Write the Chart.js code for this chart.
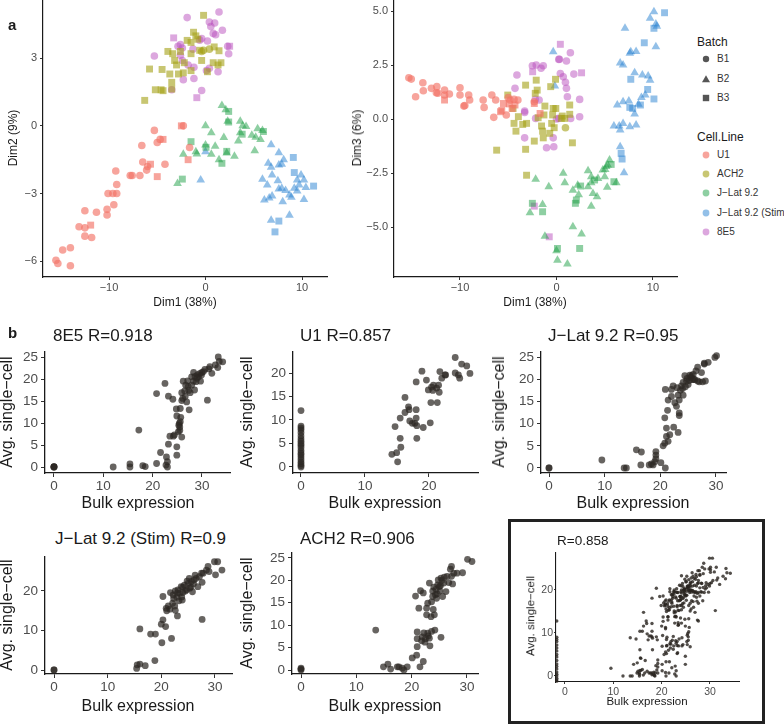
<!DOCTYPE html>
<html>
<head>
<meta charset="utf-8">
<script src="https://cdn.jsdelivr.net/npm/chart.js@4.4.1/dist/chart.umd.min.js"></script>
<style>
  body { margin:0; background:#fff; }
  #wrap { position:relative; width:784px; height:728px; overflow:hidden; font-family:"Liberation Sans", Arial, Helvetica, sans-serif; }
  canvas { position:absolute; }
  .t { position:absolute; white-space:nowrap; line-height:1; color:#1a1a1a; }
  .c { transform:translate(-50%,-50%); }
  .l { transform:translateY(-50%); }
  .r { transform:translate(-50%,-50%) rotate(-90deg); }
  .box { position:absolute; left:508px; top:519px; width:257px; height:205px; box-sizing:border-box; border:3px solid #222; }
  .key { position:absolute; transform:translate(-50%,-50%); line-height:0; }
</style>
</head>
<body>
<div id="wrap">
  <div class="box"></div>
  <canvas id="aL"></canvas>
  <canvas id="aR"></canvas>
  <canvas id="p1"></canvas>
  <canvas id="p2"></canvas>
  <canvas id="p3"></canvas>
  <canvas id="p4"></canvas>
  <canvas id="p5"></canvas>
  <canvas id="p6"></canvas>

  <!-- panel a text -->
  <div class="t l" style="left:8px;top:24px;font-size:15px;font-weight:bold;">a</div>
  <div class="t r" style="left:13px;top:138px;font-size:12px;">Dim2 (9%)</div>
  <div class="t c" style="left:185px;top:302px;font-size:12px;">Dim1 (38%)</div>
  <div class="t r" style="left:357px;top:138px;font-size:12px;">Dim3 (6%)</div>
  <div class="t c" style="left:535px;top:302px;font-size:12px;">Dim1 (38%)</div>

  <!-- legend -->
  <div class="t l" style="left:697px;top:42px;font-size:12px;">Batch</div>
  <div class="t l" style="left:717px;top:59px;font-size:10px;color:#333;">B1</div>
  <div class="t l" style="left:717px;top:79px;font-size:10px;color:#333;">B2</div>
  <div class="t l" style="left:717px;top:98px;font-size:10px;color:#333;">B3</div>
  <div class="t l" style="left:697px;top:137px;font-size:12px;">Cell.Line</div>
  <div class="t l" style="left:717px;top:155px;font-size:10px;color:#333;">U1</div>
  <div class="t l" style="left:717px;top:174px;font-size:10px;color:#333;">ACH2</div>
  <div class="t l" style="left:717px;top:193px;font-size:10px;color:#333;">J−Lat 9.2</div>
  <div class="t l" style="left:717px;top:213px;font-size:10px;color:#333;">J−Lat 9.2 (Stim)</div>
  <div class="t l" style="left:717px;top:232px;font-size:10px;color:#333;">8E5</div>
  <div id="keys"></div>

  <!-- panel b text -->
  <div class="t l" style="left:8px;top:332px;font-size:15px;font-weight:bold;">b</div>
  <div class="t l" style="left:53px;top:335px;font-size:17px;">8E5 R=0.918</div>
  <div class="t l" style="left:300px;top:335px;font-size:17px;">U1 R=0.857</div>
  <div class="t l" style="left:548px;top:335px;font-size:17px;">J−Lat 9.2 R=0.95</div>
  <div class="t l" style="left:55px;top:538px;font-size:17px;">J−Lat 9.2 (Stim) R=0.9</div>
  <div class="t l" style="left:300px;top:538px;font-size:17px;">ACH2 R=0.906</div>
  <div class="t l" style="left:557px;top:541px;font-size:13.5px;">R=0.858</div>

  <div class="t r" style="left:7px;top:412px;font-size:16px;">Avg. single−cell</div>
  <div class="t r" style="left:247px;top:412px;font-size:16px;">Avg. single−cell</div>
  <div class="t r" style="left:499px;top:412px;font-size:16px;">Avg. single−cell</div>
  <div class="t r" style="left:7px;top:615px;font-size:16px;">Avg. single−cell</div>
  <div class="t r" style="left:247px;top:613px;font-size:16px;">Avg. single−cell</div>
  <div class="t r" style="left:531px;top:616px;font-size:11.5px;">Avg. single−cell</div>

  <div class="t c" style="left:138px;top:503px;font-size:16px;">Bulk expression</div>
  <div class="t c" style="left:385px;top:503px;font-size:16px;">Bulk expression</div>
  <div class="t c" style="left:633px;top:503px;font-size:16px;">Bulk expression</div>
  <div class="t c" style="left:138px;top:706px;font-size:16px;">Bulk expression</div>
  <div class="t c" style="left:385px;top:706px;font-size:16px;">Bulk expression</div>
  <div class="t c" style="left:647px;top:702px;font-size:11.5px;">Bulk expression</div>
</div>
<script>
// ---- panel a data: [dim1, dimY, batch] ----
const u1_d12 = [[-15.5,-5.96,1],[-15.3,-6.1,1],[-14.8,-5.5,1],[-14.0,-5.4,1],[-14.0,-6.2,1],[-13.1,-4.47,1],[-12.5,-4.52,1],[-12.5,-4.89,1],[-12.5,-3.76,1],[-11.9,-4.4,3],[-11.8,-4.95,1],[-11.3,-3.83,1],[-10.2,-3.7,1],[-10.2,-3.95,1],[-10.1,-3.0,1],[-9.6,-3.0,1],[-9.5,-3.5,1],[-9.2,-3.0,1],[-9.2,-2.6,1],[-9.3,-2.0,1],[-7.8,-2.2,1],[-7.6,-2.2,1],[-6.8,-2.2,1],[-6.6,-0.87,1],[-6.5,-1.6,1],[-6.1,-1.96,1],[-6.0,-1.8,1],[-5.7,-1.7,3],[-5.3,-0.2,1],[-5.0,-2.25,3],[-5.0,-0.74,1],[-4.7,-0.6,1],[-4.4,-0.6,3],[-4.2,-1.7,1],[-2.5,0.0,3],[-2.3,0.0,1],[-1.65,-0.96,1],[-1.8,-1.5,3]];
const ach2_d12 = [[-0.2,4.9,3],[-1.24,4.15,3],[-1.0,3.99,3],[-0.8,3.84,3],[-1.9,3.79,3],[-1.5,3.7,3],[-3.9,3.3,3],[-3.4,3.2,3],[-2.6,3.3,3],[-1.5,3.2,3],[-0.6,3.35,3],[-0.4,3.3,1],[-0.2,3.35,1],[0.9,3.5,3],[1.4,3.33,3],[-3.2,2.9,3],[-3.0,2.7,3],[-2.2,2.8,3],[-0.4,2.9,3],[0.8,2.8,3],[1.6,2.8,3],[-5.8,2.52,3],[-4.5,2.5,3],[-3.7,2.3,3],[-2.3,2.35,3],[-1.5,2.45,3],[1.3,2.7,3],[-3.5,1.93,3],[-5.2,1.6,3],[-4.6,1.6,3],[-4.4,1.56,3],[-3.5,1.63,3],[-6.3,1.13,3],[-2.8,2.3,3],[0.4,3.4,1],[0.2,2.4,3]];
const jl_d12 = [[1.7,0.9,2],[2.1,0.72,2],[2.4,0.64,3],[2.3,0.2,2],[2.4,0.17,3],[0.0,0.0,2],[0.6,-0.3,2],[1.9,-0.52,2],[3.6,0.2,2],[3.85,0.0,2],[4.2,-0.03,2],[3.6,-0.3,2],[3.8,-0.37,3],[3.4,-0.67,2],[5.4,-0.13,2],[5.9,-0.2,2],[6.0,-0.25,3],[4.8,-0.42,2],[5.2,-0.5,2],[5.7,-0.6,2],[5.1,-1.1,2],[-1.5,-0.7,3],[0.0,-0.85,2],[0.05,-0.95,3],[1.0,-0.9,2],[-2.3,-1.26,2],[-0.9,-1.25,2],[0.6,-1.26,2],[1.4,-1.5,2],[1.7,-1.66,3],[2.2,-1.2,2],[3.0,-1.35,2],[2.2,-1.13,3],[-2.4,-2.36,3],[-2.9,-2.56,2],[-1.0,-1.15,2]];
const stim_d12 = [[6.8,-0.84,2],[7.6,-1.19,2],[9.1,-1.4,3],[8.1,-1.5,2],[6.5,-1.66,2],[6.8,-1.84,2],[7.6,-1.73,2],[7.9,-1.7,2],[9.2,-2.07,3],[9.9,-2.18,2],[6.9,-2.18,2],[5.9,-2.37,2],[7.5,-2.43,2],[6.4,-2.62,2],[9.5,-2.4,2],[10.2,-2.4,2],[9.7,-2.62,2],[10.4,-2.73,2],[11.2,-2.67,3],[9.2,-2.77,2],[7.6,-2.8,2],[7.9,-2.77,2],[8.3,-2.87,2],[8.7,-3.07,2],[9.5,-2.89,2],[10.2,-3.26,2],[8.9,-3.17,2],[8.0,-3.36,2],[6.1,-3.29,2],[6.6,-3.2,2],[6.9,-3.11,2],[8.7,-3.96,2],[6.8,-4.18,2],[7.6,-4.22,3],[7.2,-4.7,3],[-0.5,-2.4,2],[0.0,-1.15,2]];
const e8_d12 = [[-1.9,4.8,1],[1.4,5.05,1],[0.4,4.6,1],[0.95,4.56,1],[0.55,4.4,1],[0.8,4.1,1],[1.05,4.04,1],[1.75,4.24,1],[-0.6,3.8,1],[0.2,3.76,1],[-2.6,3.6,1],[-2.85,3.53,1],[-2.4,3.45,1],[-1.3,3.4,1],[-3.3,3.9,3],[2.3,3.53,1],[2.5,3.53,3],[2.4,3.2,1],[-5.3,3.1,1],[-2.6,3.13,1],[-2.4,2.9,1],[-1.8,2.7,1],[-1.2,2.6,1],[0.1,2.45,1],[0.4,2.55,1],[1.3,2.4,1],[-2.3,2.05,1],[-1.2,2.1,1],[-3.5,1.6,1],[-0.4,1.57,1],[-0.9,1.25,3],[-0.4,3.87,1]];

const u1_d13 = [[-15.3,1.91,1],[-15.05,1.85,1],[-14.6,1.03,1],[-13.85,1.68,1],[-13.8,1.31,1],[-12.96,1.42,1],[-12.4,1.5,1],[-12.45,1.22,1],[-12.3,1.2,1],[-11.6,1.34,1],[-11.6,1.11,1],[-11.6,0.88,3],[-11.1,1.16,1],[-10.0,1.45,1],[-10.0,1.11,1],[-9.6,0.6,1],[-9.5,0.63,1],[-9.1,1.11,1],[-9.0,0.88,1],[-7.6,0.88,1],[-7.5,0.54,1],[-6.7,1.11,1],[-6.3,0.88,1],[-6.5,0.08,1],[-5.8,0.34,3],[-5.67,0.4,3],[-5.5,0.72,3],[-5.2,0.19,1],[-5.0,0.99,1],[-4.9,0.7,3],[-4.6,0.49,3],[-4.8,0.88,1],[-4.4,0.91,1],[-4.0,0.88,1],[-4.3,0.65,3],[-2.3,0.72,3],[-2.3,0.8,1],[-1.7,0.26,3]];
const ach2_d13 = [[-3.2,1.57,3],[-2.1,1.8,3],[-0.1,1.84,3],[-0.6,1.5,3],[-2.0,1.34,3],[-2.2,1.19,3],[-5.05,1.11,3],[-4.5,0.49,3],[-3.95,0.11,3],[-4.4,-0.2,3],[-4.2,-0.56,3],[-3.5,-0.25,3],[-3.1,-0.2,3],[-1.2,0.6,3],[-0.34,0.49,3],[-1.3,0.19,3],[-0.4,0.19,3],[0.6,0.14,3],[1.37,0.65,3],[1.37,0.22,3],[-1.55,-0.32,3],[-1.44,-0.56,3],[-0.5,-0.2,3],[-0.24,-0.4,3],[-0.7,-0.66,3],[-1.37,-0.87,3],[-2.3,-1.02,3],[0.93,-0.4,1],[0.5,0.03,3],[1.65,-1.1,3],[-3.2,-1.4,3],[-6.2,-1.44,3],[-3.1,-2.6,3],[-0.07,0.49,3],[0.86,0.03,3],[-1.9,0.06,3]];
const jl_d13 = [[-2.16,-2.79,2],[-0.8,-3.13,2],[0.7,-2.51,2],[0.86,-2.95,2],[1.7,-3.29,2],[2.2,-3.06,2],[2.5,-3.1,3],[2.3,-3.5,2],[2.06,-3.75,3],[1.96,-3.9,3],[3.6,-4.03,2],[3.27,-2.39,2],[3.6,-2.95,2],[3.95,-2.82,3],[3.78,-3.44,2],[4.2,-3.6,2],[5.05,-2.33,2],[5.26,-3.16,2],[-2.5,-3.9,3],[-2.75,-4.34,2],[-1.44,-3.95,2],[-1.44,-4.29,3],[1.7,-4.99,2],[2.6,-5.32,2],[-1.2,-5.42,2],[0.1,-5.99,3],[0.0,-6.1,2],[2.4,-5.99,3],[0.1,-6.53,2],[1.13,-6.71,2],[3.27,-3.13,2],[3.6,-2.67,2],[4.3,-2.75,2],[4.8,-2.36,2],[5.15,-2.2,2],[5.3,-2.13,2],[5.5,-1.9,2],[5.67,-2.1,3],[5.0,-2.67,2],[5.95,-2.9,3],[6.2,-2.95,2]];
const stim_d13 = [[10.1,4.97,2],[11.2,4.92,3],[9.7,4.66,2],[10.3,4.4,2],[10.4,4.3,2],[10.1,4.2,3],[7.1,4.2,2],[9.1,3.53,3],[10.3,3.35,2],[7.7,3.12,2],[8.25,3.13,2],[7.6,3.04,2],[6.6,2.6,2],[6.9,2.5,2],[8.1,2.14,2],[8.9,2.04,2],[9.5,1.99,2],[9.7,1.8,2],[7.7,1.84,3],[9.45,1.37,3],[10.1,0.93,3],[9.2,1.11,2],[8.8,1.0,2],[6.3,0.65,2],[6.9,0.8,2],[7.5,0.83,2],[7.6,0.54,3],[7.9,0.49,3],[8.5,0.69,2],[8.7,0.65,3],[8.1,0.23,2],[5.95,-0.32,2],[6.5,-0.32,2],[6.9,-0.2,2],[7.6,-0.36,2],[8.25,-0.28,2],[6.6,-0.51,2],[6.6,-1.28,2],[6.7,-1.59,3],[6.8,-1.85,3],[7.0,-2.48,2],[-0.34,3.12,2],[-0.17,1.53,2]];
const e8_d13 = [[0.4,3.46,3],[1.44,3.07,1],[0.24,2.76,1],[0.3,2.77,1],[1.03,2.69,1],[-2.5,2.47,1],[-2.1,2.5,1],[-1.6,2.35,1],[-1.37,2.47,1],[-2.47,2.19,3],[-4.1,2.04,1],[0.4,2.11,1],[0.7,1.96,1],[1.8,2.08,1],[2.6,2.14,3],[0.93,1.7,1],[1.03,1.42,1],[-4.3,1.42,1],[1.13,1.03,1],[2.4,0.91,1],[-2.2,0.91,1],[-3.3,0.37,1],[-3.3,0.3,1],[0.24,0.03,1],[0.0,0.0,1],[1.47,0.03,1],[2.4,0.11,1],[-2.16,0.03,1],[-3.3,-0.87,1],[-0.34,-0.87,1],[-1.03,-1.33,1],[-0.28,-1.28,1],[-2.3,-4.03,3],[-0.75,-5.45,3],[-1.8,0.88,1]];

const cellLines = ["U1", "ACH2", "J−Lat 9.2", "J−Lat 9.2 (Stim)", "8E5"];
const cellColors = ["rgba(243,115,103,0.65)", "rgba(163,160,20,0.6)", "rgba(30,160,70,0.5)", "rgba(40,130,210,0.5)", "rgba(185,80,190,0.5)"];
const batchShapes = { 1: "circle", 2: "triangle", 3: "rect" };
const batchRadius = { 1: 3.8, 2: 5, 3: 4.9 };

const dim1Ticks = [-10, 0, 10];
const dim2Ticks = [-6, -3, 0, 3];
const dim3Ticks = [-5, -2.5, 0, 2.5, 5];

// ---- panel b data: [bulk, avg single-cell] ----
const e8Bulk = [[0,0],[0,0],[0,0],[0,0.1],[12.0,0],[15.4,0.7],[15.4,0],[18.0,0.3],[18.5,0.1],[17.2,8.4],[20.8,0.8],[20.8,16.7],[21.6,3.3],[22.5,19.0],[22.7,0.45],[22.8,2.3],[23.0,1.2],[23.0,0],[23.2,5.2],[23.2,16.1],[23.5,7.0],[24.1,15.4],[24.2,7.0],[24.4,7.3],[24.8,13.2],[24.9,11.6],[24.9,4.6],[24.9,2.7],[25.2,8.0],[25.4,9.9],[25.5,9.1],[25.5,8.3],[25.6,13.3],[25.9,15.1],[26.1,15.6],[25.9,6.8],[25.7,11.3],[25.9,16.9],[26.6,16.0],[26.5,17.3],[26.9,14.8],[27.2,18.3],[27.6,16.9],[27.4,13.0],[27.1,19.6],[27.9,18.6],[28.3,19.5],[28.5,17.5],[28.8,19.4],[29.3,20.5],[29.6,21.3],[29.9,20.9],[30.3,21.7],[29.7,19.5],[29.1,21.0],[30.6,22.2],[31.1,15.2],[31.6,22.8],[32.0,21.3],[32.7,23.2],[33.2,22.6],[33.3,25.0],[33.5,24.0],[34.2,23.9],[27.9,20.5],[28.3,21.5],[28.6,20.6],[26.7,18.6],[26.2,19.5],[25.6,10.3],[25.3,9.5],[27.3,17.4],[29.0,20.2],[30.0,21.5],[31.4,22.3]];
const u1Bulk = [[0,12.0],[0,8.7],[0,8.3],[0,7.9],[0,7.3],[0,6.6],[0,6.0],[0,5.5],[0,5.0],[0,4.6],[0,4.1],[0,3.5],[0,3.0],[0,2.6],[0,2.1],[0,1.6],[0,1.1],[0,0.7],[0,0.3],[0,0.0],[14.2,2.7],[14.95,3.05],[14.7,8.6],[15.1,1.1],[15.5,6.1],[15.5,10.4],[15.6,4.2],[16.25,14.8],[16.25,11.6],[16.8,12.8],[16.9,12.2],[17.0,9.8],[17.4,9.3],[17.8,9.3],[18.0,18.1],[18.0,12.2],[18.0,10.4],[18.1,8.8],[18.1,6.1],[18.9,20.4],[19.1,8.4],[19.6,18.5],[19.9,16.4],[20.2,9.4],[20.3,13.7],[20.4,17.0],[20.6,16.3],[20.7,17.4],[21.2,16.8],[21.3,13.7],[21.5,17.4],[21.6,15.9],[21.7,20.3],[22.0,18.9],[22.5,19.6],[22.6,19.6],[24.1,23.3],[24.1,20.0],[24.6,19.6],[24.8,18.9],[25.1,21.9],[25.9,21.5],[26.4,19.9]];
const jlBulk = [[0,0],[0,0],[9.5,1.8],[13.5,0],[13.9,0],[15.7,4.1],[16.6,3.6],[16.5,0.7],[18.0,0.7],[18.4,0.9],[18.7,0.7],[19.0,1.4],[19.2,3.7],[19.2,2.9],[19.2,2.1],[20.1,1.2],[20.9,0],[20.5,5.0],[20.8,5.6],[20.8,11.3],[20.9,17.7],[21.1,9.0],[21.1,7.1],[21.4,6.0],[21.3,13.0],[21.7,7.5],[21.4,15.3],[22.0,16.1],[22.0,17.7],[22.3,18.5],[22.4,9.2],[23.2,8.0],[22.6,14.7],[22.9,13.9],[23.2,16.4],[23.4,12.4],[23.4,11.8],[23.0,18.1],[23.4,15.3],[23.8,18.5],[24.1,19.3],[24.1,16.4],[24.4,20.8],[24.7,19.6],[25.0,18.8],[25.3,20.9],[25.5,20.4],[25.8,19.9],[25.9,21.1],[26.2,19.9],[26.4,21.9],[26.7,19.6],[27.0,19.4],[26.7,22.7],[27.4,21.5],[27.6,19.4],[27.9,23.6],[27.9,23.4],[28.6,23.8],[28.1,19.6],[29.8,24.9],[30.1,25.3],[24.8,20.2],[25.2,19.7],[24.5,18.3],[25.6,20.8],[26.0,20.0],[23.6,17.5],[24.0,17.9]];
const stimBulk = [[0,0],[0,0],[15.4,0.4],[15.5,1.3],[16.0,1.5],[16.0,10.4],[17.0,1.1],[18.0,9.1],[18.9,9.1],[18.8,2.4],[20.1,6.9],[20.0,11.6],[20.3,12.7],[20.3,18.6],[20.8,11.0],[20.9,15.6],[21.0,15.0],[21.3,16.2],[21.6,15.4],[21.7,19.6],[21.9,8.0],[22.1,16.9],[22.2,19.0],[22.3,18.1],[22.5,16.2],[22.6,15.1],[22.9,18.4],[23.0,13.7],[23.1,20.3],[23.3,17.5],[23.4,19.4],[23.7,21.1],[23.9,17.7],[24.0,19.6],[24.3,21.5],[24.7,20.3],[25.0,21.9],[25.3,20.7],[25.6,22.4],[25.8,19.8],[26.1,22.8],[26.5,23.2],[26.8,21.1],[27.1,23.6],[27.6,22.2],[27.8,24.5],[27.6,12.8],[27.5,24.5],[28.4,25.3],[28.7,26.2],[28.9,24.9],[29.9,27.4],[30.5,27.4],[30.1,24.1],[31.3,25.3],[24.5,20.0],[25.5,21.0],[23.8,18.5],[24.8,22.5],[26.0,21.8],[23.0,19.5],[22.6,20.0],[25.2,23.2],[26.3,24.0],[24.0,21.0]];
const ach2Bulk = [[0,0.2],[0,0],[0,0.4],[13.5,8.9],[14.9,0.7],[15.7,1.3],[16.2,0.2],[17.4,0.7],[17.7,0.7],[18.3,0.4],[18.6,0],[19.2,0.7],[20.1,2.7],[20.7,16.5],[20.9,3.3],[21.0,5.2],[21.0,8.5],[21.0,7.0],[21.3,13.8],[21.5,0.7],[21.6,17.7],[21.8,6.5],[21.9,7.4],[22.1,17.2],[22.1,1.9],[22.2,8.3],[22.5,7.0],[22.7,12.3],[22.7,13.8],[22.9,14.9],[22.9,8.2],[23.2,7.1],[23.2,19.4],[23.3,5.4],[23.5,11.9],[23.6,15.2],[23.8,17.6],[23.8,16.4],[23.9,13.5],[24.1,12.3],[24.2,8.9],[24.4,18.0],[24.5,16.0],[24.7,19.0],[24.8,20.1],[25.0,18.6],[25.1,17.6],[25.3,7.3],[25.3,20.5],[25.6,16.4],[25.8,19.4],[25.9,20.7],[26.2,17.5],[26.4,20.9],[26.7,19.5],[27.0,22.5],[27.2,23.1],[27.2,20.9],[27.4,19.2],[27.6,21.6],[28.2,21.6],[29.2,21.7],[30.1,24.7],[30.9,24.2],[24.0,18.5],[24.6,17.0],[25.2,18.8],[24.3,16.8],[25.5,20.0],[23.0,7.6],[22.4,6.2],[23.6,8.6]];
// pooled panel: zero-bulk genes sit just left of 0
const insetZeroX = -1.7;
const insetZeroY = [12.8,9.0,8.5,8.0,7.2,6.5,5.8,5.0,4.4,3.6,2.8,2.2,1.6,0.9,0.4,0.0,-0.5,-0.9,-1.2];

const bulkTicks = [0, 10, 20, 30];
const scTicks5 = [0, 5, 10, 15, 20, 25];
const scTicks10 = [0, 10, 20];

const FONT = '"Liberation Sans", Arial, Helvetica, sans-serif';
const minus = v => String(v).replace("-", "\u2212");

function scatter(id, box, xr, yr, xt, yt, datasets, o) {
    const pt = o.pt, pr = o.pr;
    const cv = document.getElementById(id);
    const w = o.yW + box[2] - box[0] + pr;
    const h = pt + box[3] - box[1] + o.xH;
    cv.width = w; cv.height = h;
    cv.style.left = (box[0] - o.yW) + "px";
    cv.style.top = (box[1] - pt) + "px";
    cv.style.width = w + "px";
    cv.style.height = h + "px";
    const axis = (r, t, fmt, isX) => ({
        type: "linear", min: r[0], max: r[1],
        afterBuildTicks: s => { s.ticks = t.map(v => ({ value: v })); },
        // fixed box sizes, and no extra label padding, so the plot area lands where the picture has it
        afterFit: s => {
            if (isX) { s.height = o.xH; s.paddingLeft = 0; s.paddingRight = 0; }
            else { s.width = o.yW; s.paddingTop = 0; s.paddingBottom = 0; }
        },
        grid: { drawOnChartArea: false, drawTicks: true, tickLength: o.tl, color: "#333", tickWidth: 1 },
        border: { display: true, color: "#1a1a1a", width: o.bw },
        ticks: { color: "#4d4d4d", font: { family: FONT, size: o.fs }, padding: isX ? o.padX : o.padY,
                 autoSkip: false, maxRotation: 0, callback: fmt }
    });
    return new Chart(cv, {
        type: "scatter",
        data: { datasets },
        options: {
            responsive: false, animation: false, events: [],
            layout: { padding: { top: pt, right: pr, left: 0, bottom: 0 } },
            plugins: { legend: { display: false }, tooltip: { enabled: false } },
            scales: {
                x: axis(xr, xt, v => minus(v), true),
                y: axis(yr, yt, o.yFmt || (v => minus(v)), false)
            }
        }
    });
}

function pcaSets(series) {
    return series.map((pts, i) => ({
        label: cellLines[i],
        data: pts,
        backgroundColor: cellColors[i],
        borderWidth: 0,
        pointStyle: ctx => batchShapes[ctx.raw[2]],
        pointRadius: ctx => batchRadius[ctx.raw[2]],
        clip: false
    }));
}

function bulkSet(pts, r, col) {
    return [{ data: pts, backgroundColor: col, borderWidth: 0, pointRadius: r, clip: false }];
}

// panel a plots start at the very top, so the canvas sticks out above the page by pt
const aOpts = { yW: 40, xH: 20, pt: 8, pr: 6, tl: 3, bw: 1.2, fs: 11, padX: 1, padY: 3 };
scatter("aL", [43, 0, 327, 277], [-16.84, 12.59], [-6.7, 5.58], dim1Ticks, dim2Ticks,
    pcaSets([u1_d12, ach2_d12, jl_d12, stim_d12, e8_d12]), aOpts);
scatter("aR", [394, 0, 677, 277], [-16.84, 12.49], [-7.31, 5.51], dim1Ticks, dim3Ticks,
    pcaSets([u1_d13, ach2_d13, jl_d13, stim_d13, e8_d13]),
    Object.assign({}, aOpts, { yFmt: v => minus(v.toFixed(1)) }));

const dot = "rgba(45,40,36,0.72)";
const bOpts = { yW: 40, xH: 24, pt: 8, pr: 8, tl: 4, bw: 1.3, fs: 13.5, padX: 1.5, padY: 3 };
scatter("p1", [45, 352, 230, 473], [-1.82, 35.68], [-1.36, 26.14], bulkTicks, scTicks5, bulkSet(e8Bulk, 3.4, dot), bOpts);
scatter("p2", [293, 352, 478, 473], [-1.25, 27.66], [-1.28, 24.47], [0, 10, 20], [0, 5, 10, 15, 20], bulkSet(u1Bulk, 3.4, dot), bOpts);
scatter("p3", [541, 352, 726, 473], [-1.44, 31.8], [-1.13, 26.13], bulkTicks, scTicks5, bulkSet(jlBulk, 3.4, dot), bOpts);
scatter("p4", [45, 557, 232, 674], [-1.68, 33.17], [-1.01, 28.6], bulkTicks, scTicks10, bulkSet(stimBulk, 3.4, dot), bOpts);
scatter("p5", [292, 553, 478, 674], [-1.63, 31.99], [-0.89, 26.1], bulkTicks, scTicks5, bulkSet(ach2Bulk, 3.4, dot), bOpts);

const pooled = [].concat(e8Bulk, u1Bulk, jlBulk, stimBulk, ach2Bulk).filter(p => p[0] > 0)
    .concat(insetZeroY.map(y => [insetZeroX, y]));
scatter("p6", [556, 553, 739, 682], [-1.86, 36.0], [-1.4, 28.6], bulkTicks, scTicks10,
    bulkSet(pooled, 1.7, "rgba(40,35,30,0.8)"),
    { yW: 36, xH: 18, pt: 6, pr: 6, tl: 2, bw: 1.1, fs: 10.5, padX: 1.5, padY: 1 });

// legend keys drawn as small shapes
const keys = document.getElementById("keys");
const keyY = [155, 174, 193, 213, 232];
function key(x, y, html) {
    const d = document.createElement("div");
    d.className = "key";
    d.style.left = x + "px"; d.style.top = y + "px";
    d.innerHTML = html;
    keys.appendChild(d);
}
key(706, 59, '<svg width="10" height="10"><circle cx="5" cy="5" r="3.2" fill="#555"/></svg>');
key(706, 79, '<svg width="10" height="10"><polygon points="5,1.2 9,8.2 1,8.2" fill="#555"/></svg>');
key(706, 98, '<svg width="10" height="10"><rect x="1.8" y="1.8" width="6.4" height="6.4" fill="#555"/></svg>');
cellColors.forEach((c, i) => {
    key(706, keyY[i], `<svg width="10" height="10"><circle cx="5" cy="5" r="3.4" fill="${c}"/></svg>`);
});
</script>
</body>
</html>
